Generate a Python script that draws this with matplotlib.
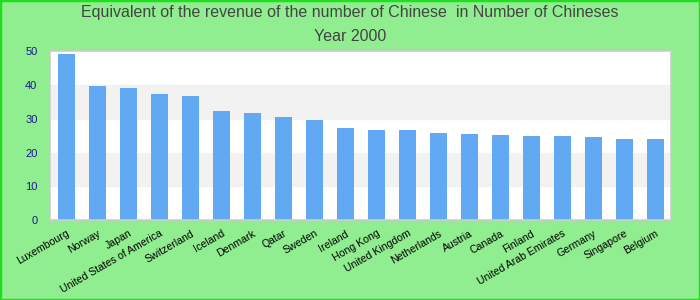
import matplotlib.pyplot as plt
import matplotlib.transforms as mtransforms
from matplotlib.patches import Rectangle

countries = ['Luxembourg', 'Norway', 'Japan', 'United States of America', 'Switzerland',
             'Iceland', 'Denmark', 'Qatar', 'Sweden', 'Ireland', 'Hong Kong',
             'United Kingdom', 'Netherlands', 'Austria', 'Canada', 'Finland',
             'United Arab Emirates', 'Germany', 'Singapore', 'Belgium']
values = [49.2, 39.7, 39.1, 37.3, 36.7, 32.3, 31.7, 30.5, 29.6, 27.3, 26.7,
          26.7, 25.8, 25.5, 25.2, 24.9, 24.9, 24.6, 24.0, 24.0]
yticks = [0, 10, 20, 30, 40, 50]

plt.rcParams['font.family'] = ['Liberation Sans', 'DejaVu Sans']

fig = plt.figure(figsize=(7, 3), dpi=100, facecolor='#90ee90')
ax = fig.add_axes([0.0714, 0.2667, 0.8866, 0.5623])
ax.set_facecolor('white')

# alternating bands
for i in range(len(yticks) - 1):
    if i % 2 == 1:
        ax.axhspan(yticks[i], yticks[i + 1], color='#f2f2f2', zorder=0)

x = range(len(countries))
ax.bar(x, values, width=0.55, color='#62a9f4', zorder=2)

ax.set_xlim(-0.53, 19.49)
ax.set_ylim(0, 50)
ax.set_yticks(yticks)
ax.set_xticks(list(x))
ax.set_xticklabels(countries, rotation=30, ha='right', rotation_mode='anchor',
                   fontsize=7.6, color='black')
shift = mtransforms.ScaledTranslation(-7 / 72, -1 / 72, fig.dpi_scale_trans)
for lab in ax.get_xticklabels():
    lab.set_transform(lab.get_transform() + shift)
ax.tick_params(axis='y', length=0, pad=9, labelsize=8, labelcolor='#1a1a8c')
ax.tick_params(axis='x', length=0, pad=6)
for s in ax.spines.values():
    s.set_color('#cccccc')
    s.set_linewidth(1.2)

fig.text(0.5, 0.957, 'Equivalent of the revenue of the number of Chinese  in Number of Chineses',
         ha='center', va='center', fontsize=11.5, color='#444444')
fig.text(0.5, 0.878, 'Year 2000', ha='center', va='center', fontsize=11.5, color='#444444')

fig.patches.append(Rectangle((0, 0), 1, 1, transform=fig.transFigure, fill=False,
                             edgecolor='#22dd22', linewidth=2.5))

fig.savefig('out.png', dpi=100, facecolor=fig.get_facecolor())
